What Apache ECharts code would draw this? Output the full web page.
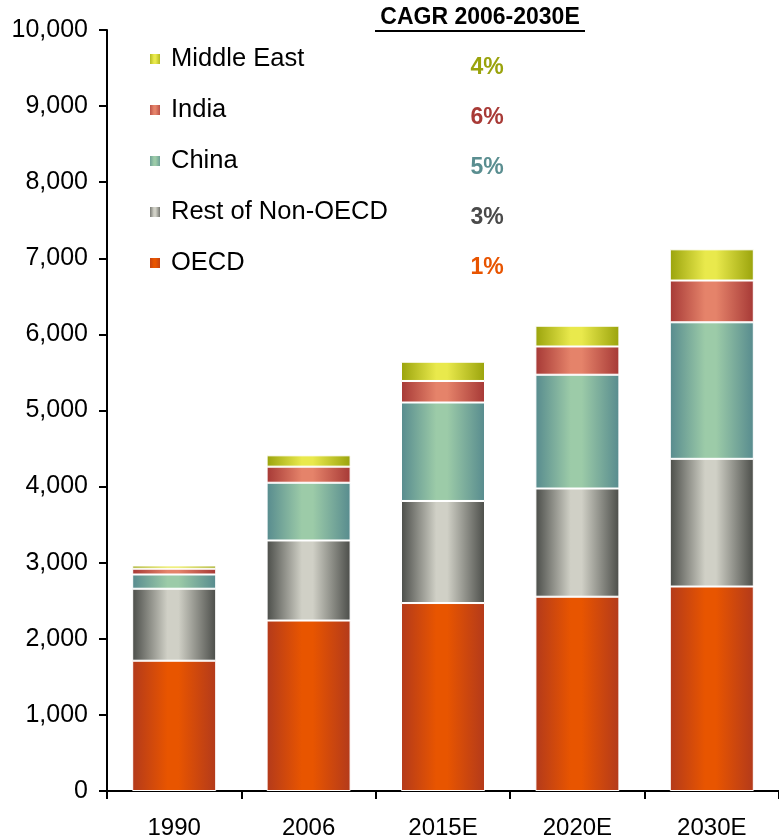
<!DOCTYPE html>
<html>
<head>
<meta charset="utf-8">
<script src="https://cdn.jsdelivr.net/npm/echarts@6/dist/echarts.min.js"></script>
<style>
  html, body { margin: 0; padding: 0; background: #fff; }
  #chart { width: 779px; height: 840px; }
</style>
</head>
<body>
<div id="chart"></div>
<script>
// Demand by region, 1990 to 2030E
const categories = ['1990', '2006', '2015E', '2020E', '2030E'];
const oecd = [1712, 2240, 2470, 2553, 2687];
const restNonOecd = [946, 1052, 1341, 1422, 1678];
const china = [187, 759, 1294, 1495, 1794];
const india = [76, 211, 283, 371, 549];
const middleEast = [42, 149, 253, 273, 410];

// Growth rates shown beside the legend (top to bottom)
const cagrTitle = 'CAGR 2006-2030E';
const cagrLabels = ['4%', '6%', '5%', '3%', '1%'];
const cagrColors = ['#9aa30c', '#a83a36', '#5a8e90', '#4a4a4a', '#e85400'];

const yTicks = [0, 1000, 2000, 3000, 4000, 5000, 6000, 7000, 8000, 9000, 10000];

const FONT = 'Arial, "Liberation Sans", sans-serif';

// Cylinder-like horizontal shading for each segment
function shade(edge, mid, edge2) {
  return {
    type: 'linear', x: 0, y: 0, x2: 1, y2: 0,
    colorStops: [
      { offset: 0, color: edge },
      { offset: 0.42, color: mid },
      { offset: 0.55, color: mid },
      { offset: 1, color: edge2 || edge }
    ]
  };
}

const seriesDefs = [
  { name: 'OECD', data: oecd, color: shade('#b33a1b', '#e85500') },
  { name: 'Rest of Non-OECD', data: restNonOecd, color: shade('#4b4d49', '#d0d0c6') },
  { name: 'China', data: china, color: shade('#578b8e', '#9ccba8') },
  { name: 'India', data: india, color: shade('#a63936', '#e5836a') },
  { name: 'Middle East', data: middleEast, color: shade('#9aa30c', '#e9e94c') }
];

const chart = echarts.init(document.getElementById('chart'), null, { renderer: 'canvas' });

const legendTop = 44;
const rowStep = 51;

const graphics = [
  {
    type: 'text',
    style: {
      text: cagrTitle, x: 480, y: 29,
      textAlign: 'center', textVerticalAlign: 'bottom',
      font: 'bold 23px ' + FONT, fill: '#000'
    }
  },
  {
    type: 'line',
    shape: { x1: 375, y1: 31, x2: 585, y2: 31 },
    style: { stroke: '#000', lineWidth: 2 }
  }
];
cagrLabels.forEach(function (lab, i) {
  graphics.push({
    type: 'text',
    style: {
      text: lab, x: 487, y: 68 + i * 50,
      textAlign: 'center', textVerticalAlign: 'middle',
      font: 'bold 23px ' + FONT, fill: cagrColors[i]
    }
  });
});

chart.setOption({
  animation: false,
  backgroundColor: '#fff',
  grid: { left: 107, top: 30, width: 675, height: 761, containLabel: false },
  legend: {
    orient: 'vertical',
    left: 148,
    top: legendTop,
    padding: 0,
    itemGap: rowStep - 30,
    itemWidth: 12,
    itemHeight: 12,
    icon: 'rect',
    selectedMode: false,
    textStyle: { fontFamily: FONT, fontSize: 25.5, color: '#000', lineHeight: 30, padding: [0, 0, 0, 5] },
    data: ['Middle East', 'India', 'China', 'Rest of Non-OECD', 'OECD']
  },
  xAxis: {
    type: 'category',
    data: categories,
    axisLine: { show: true, lineStyle: { color: '#000', width: 2 } },
    axisTick: { show: true, length: 8, lineStyle: { color: '#000', width: 2 } },
    axisLabel: { fontFamily: FONT, fontSize: 24, color: '#000', margin: 25 },
    splitLine: { show: false }
  },
  yAxis: {
    type: 'value',
    min: yTicks[0],
    max: yTicks[yTicks.length - 1],
    interval: yTicks[1] - yTicks[0],
    axisLine: { show: true, lineStyle: { color: '#000', width: 2 } },
    axisTick: { show: true, length: 8, lineStyle: { color: '#000', width: 2 } },
    axisLabel: {
      fontFamily: FONT, fontSize: 25, color: '#000', margin: 19,
      formatter: function (v) { return v.toLocaleString('en-US'); }
    },
    splitLine: { show: false }
  },
  series: seriesDefs.map(function (s) {
    return {
      name: s.name,
      type: 'bar',
      stack: 'total',
      barWidth: 84,
      data: s.data,
      itemStyle: { color: s.color, borderColor: '#ffffff', borderWidth: 1 }
    };
  }),
  graphic: graphics
});
</script>
</body>
</html>
